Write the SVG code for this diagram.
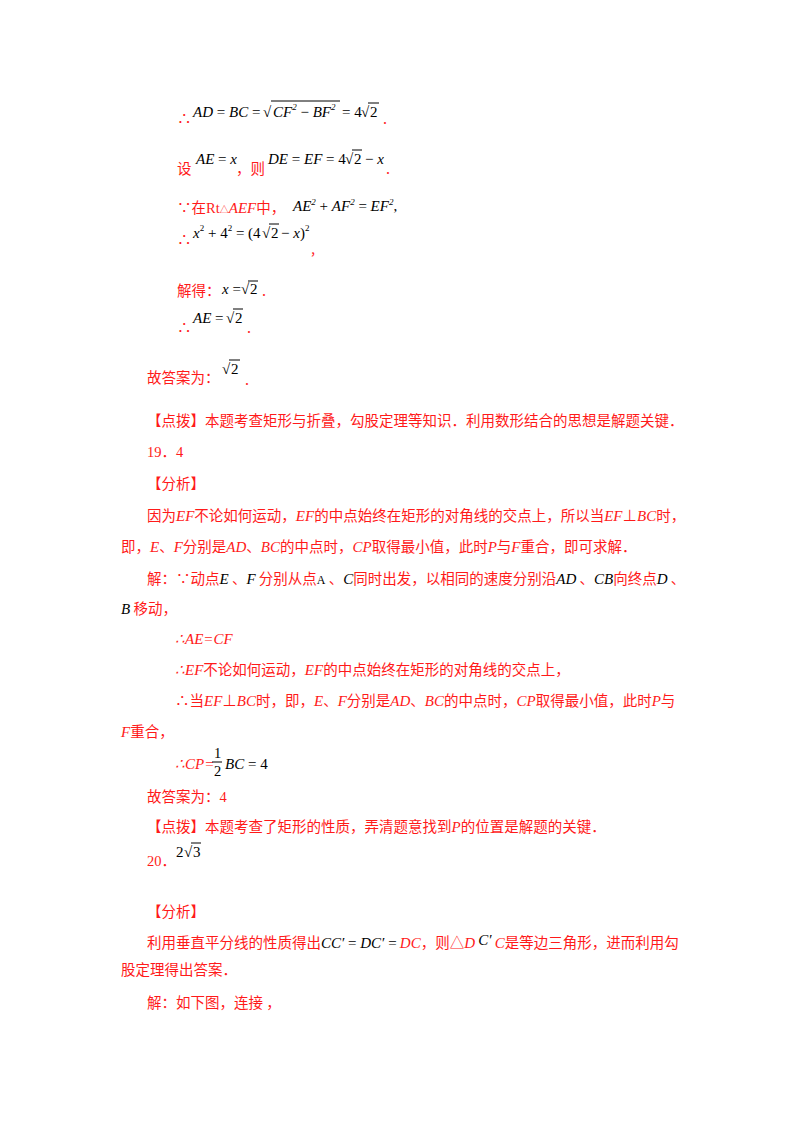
<svg xmlns="http://www.w3.org/2000/svg" width="800" height="1132" viewBox="0 0 800 1132">
<style>
text{font-family:"Noto Sans CJK SC",sans-serif;font-size:14.5px;fill:#ff1a1a}
.m{font-family:"Liberation Serif",serif;font-style:italic;fill:#000;font-size:15px}
.n{font-family:"Liberation Serif",serif;font-style:normal;fill:#000}
.q{font-family:"Liberation Serif",serif;font-style:normal;fill:#000;font-size:15px}
.r{font-family:"Liberation Serif",serif;font-style:italic;fill:#ff1a1a;font-size:15px}
.rn{font-family:"Liberation Serif",serif;fill:#ff1a1a}
.s{font-size:9px}
line{stroke:#000;stroke-width:1}
</style>
<rect width="800" height="1132" fill="#fff"/>
<g id="text">
<text x="177" y="124" font-size="16">∴</text>
<text x="193" y="117" class="m">AD <tspan class="n">=</tspan> BC <tspan class="n">=</tspan></text>
<text x="263" y="117" class="q" font-size="17">√</text>
<line x1="271" y1="101" x2="340" y2="101"/>
<text x="273" y="117" class="m">CF<tspan class="s" dy="-7">2</tspan><tspan class="n" dy="7"> − </tspan>BF<tspan class="s" dy="-7">2</tspan></text>
<text x="342" y="117" class="q">= 4</text>
<text x="361" y="117" class="q">√</text>
<text x="370" y="117" class="q">2</text>
<line x1="368" y1="103" x2="379" y2="103"/>
<text x="383" y="124">.</text>

<text x="177" y="174">设</text>
<text x="196" y="164" class="m">AE <tspan class="n">=</tspan> x</text>
<text x="236" y="174">，则</text>
<text x="268" y="164" class="m">DE <tspan class="n">=</tspan> EF <tspan class="n">= 4</tspan></text>
<text x="345" y="164" class="q">√</text>
<text x="354" y="164" class="q">2</text>
<line x1="352" y1="150" x2="362" y2="150"/>
<text x="365" y="164" class="m"><tspan class="n">−</tspan> x</text>
<text x="386" y="174">.</text>

<text x="177" y="213">∵在<tspan class="rn">Rt</tspan><tspan font-size="9">△</tspan><tspan class="r">AEF</tspan>中，</text>
<text x="293" y="211" class="m" font-size="13">AE<tspan class="s" dy="-6">2</tspan><tspan class="n" dy="6"> + </tspan>AF<tspan class="s" dy="-6">2</tspan><tspan class="n" dy="6"> = </tspan>EF<tspan class="s" dy="-6">2</tspan><tspan dy="6" fill="#ff1a1a" class="n">,</tspan></text>

<text x="177" y="245" font-size="16">∴</text>
<text x="193" y="238" class="m">x<tspan class="s n" dy="-7">2</tspan><tspan class="n" dy="7"> + 4</tspan><tspan class="s n" dy="-7">2</tspan><tspan class="n" dy="7"> = (4</tspan></text>
<text x="262" y="238" class="q">√</text>
<text x="271" y="238" class="q">2</text>
<line x1="269" y1="224" x2="279" y2="224"/>
<text x="281" y="238" class="m"><tspan class="n">−</tspan> x<tspan class="n">)</tspan><tspan class="s n" dy="-7">2</tspan></text>
<text x="311" y="254">,</text>

<text x="177" y="296">解得：</text>
<text x="222" y="294" class="m" font-size="13">x <tspan class="n">=</tspan></text>
<text x="241" y="294" class="q">√</text>
<text x="250" y="294" class="q">2</text>
<line x1="248" y1="281" x2="258" y2="281"/>
<text x="262" y="296">.</text>

<text x="177" y="333" font-size="16">∴</text>
<text x="193" y="323" class="m">AE <tspan class="n">=</tspan></text>
<text x="226" y="323" class="q">√</text>
<text x="235" y="323" class="q">2</text>
<line x1="233" y1="309" x2="243" y2="309"/>
<text x="247" y="333">.</text>

<text x="147" y="383">故答案为：</text>
<text x="222" y="374" class="q">√</text>
<text x="231" y="374" class="q">2</text>
<line x1="229" y1="360" x2="240" y2="360"/>
<text x="245" y="385">.</text>

<text x="147" y="426">【点拨】本题考查矩形与折叠，勾股定理等知识．利用数形结合的思想是解题关键．</text>
<text x="147" y="457"><tspan class="rn">19</tspan>．<tspan class="rn">4</tspan></text>
<text x="147" y="489">【分析】</text>
<text x="147" y="521">因为<tspan class="r">EF</tspan>不论如何运动，<tspan class="r">EF</tspan>的中点始终在矩形的对角线的交点上，所以当<tspan class="r">EF</tspan>⊥<tspan class="r">BC</tspan>时，</text>
<text x="121" y="552">即，<tspan class="r">E</tspan>、<tspan class="r">F</tspan>分别是<tspan class="r">AD</tspan>、<tspan class="r">BC</tspan>的中点时，<tspan class="r">CP</tspan>取得最小值，此时<tspan class="r">P</tspan>与<tspan class="r">F</tspan>重合，即可求解．</text>
<text x="147" y="584">解：∵动点<tspan class="m">E</tspan> 、<tspan class="m">F</tspan> 分别从点<tspan class="n" font-size="12" font-family="Liberation Sans">A</tspan> 、<tspan class="m">C</tspan>同时出发，以相同的速度分别沿<tspan class="m">AD</tspan> 、<tspan class="m">CB</tspan>向终点<tspan class="m">D</tspan> 、</text>
<text x="121" y="614"><tspan class="m" font-size="12">B</tspan> 移动，</text>
<text x="175" y="644" class="r">∴AE=CF</text>
<text x="175" y="675"><tspan class="r">∴EF</tspan>不论如何运动，<tspan class="r">EF</tspan>的中点始终在矩形的对角线的交点上，</text>
<text x="175" y="706">∴当<tspan class="r">EF</tspan>⊥<tspan class="r">BC</tspan>时，即，<tspan class="r">E</tspan>、<tspan class="r">F</tspan>分别是<tspan class="r">AD</tspan>、<tspan class="r">BC</tspan>的中点时，<tspan class="r">CP</tspan>取得最小值，此时<tspan class="r">P</tspan>与</text>
<text x="121" y="737"><tspan class="r">F</tspan>重合，</text>
<text x="175" y="769" class="r">∴CP=</text>
<text x="214" y="758" class="n" font-size="13" fill="#000">1</text>
<line x1="212" y1="762" x2="222" y2="762"/>
<text x="214" y="776" class="n" font-size="13" fill="#000">2</text>
<text x="225" y="769" class="m">BC <tspan class="n">= 4</tspan></text>
<text x="147" y="802">故答案为：<tspan class="rn">4</tspan></text>
<text x="147" y="832">【点拨】本题考查了矩形的性质，弄清题意找到<tspan class="r">P</tspan>的位置是解题的关键．</text>
<text x="147" y="866"><tspan class="rn">20</tspan>．</text>
<text x="176" y="857" class="q">2</text>
<text x="184" y="857" class="q">√</text>
<text x="193" y="857" class="q">3</text>
<line x1="191" y1="843" x2="201" y2="843"/>
<text x="147" y="917">【分析】</text>
<text x="147" y="948">利用垂直平分线的性质得出<tspan class="m">CC′ <tspan class="n">=</tspan> DC′ <tspan class="n">=</tspan></tspan> <tspan class="r">DC</tspan>，则△<tspan class="r">D</tspan> <tspan class="m" dy="-3">C′</tspan><tspan dy="3"> </tspan><tspan class="r">C</tspan>是等边三角形，进而利用勾</text>
<text x="121" y="975">股定理得出答案．</text>
<text x="147" y="1008">解：如下图，连接 ，</text>
</g>
</svg>
